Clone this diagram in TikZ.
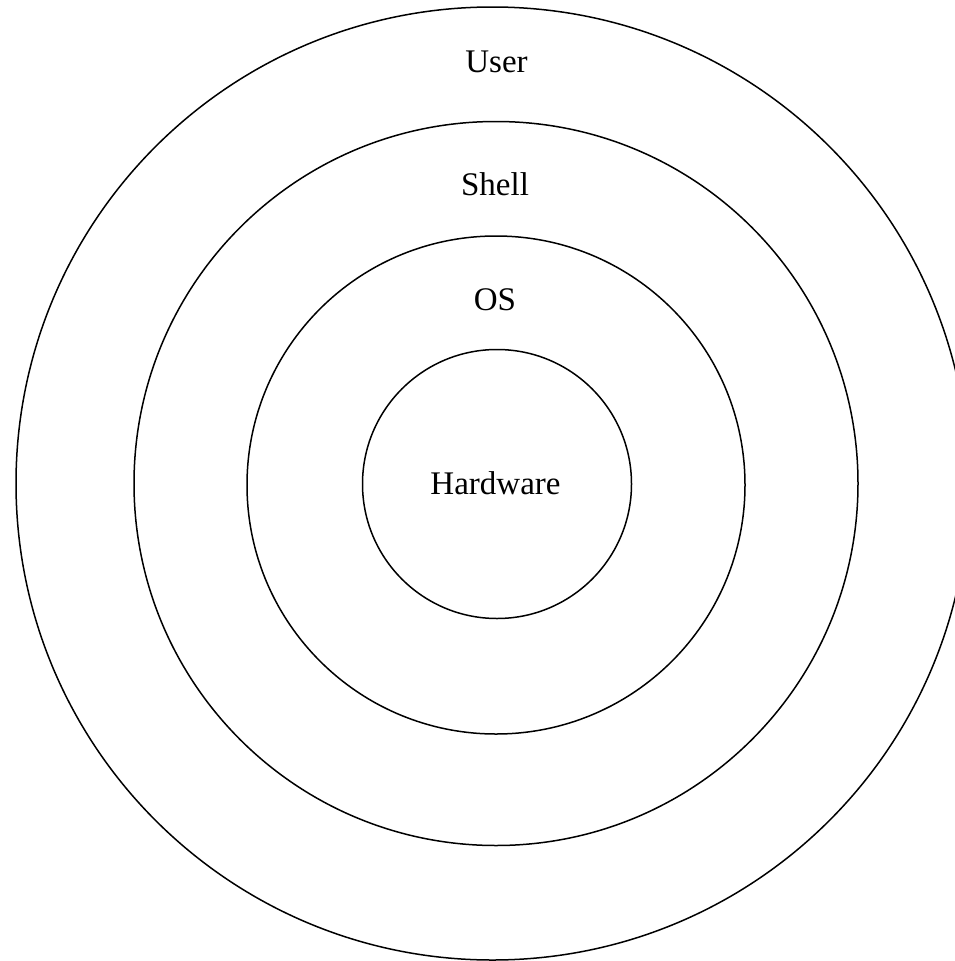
\documentclass[tikz,border=0pt]{standalone}
\usepackage{fontspec}
\setmainfont{Liberation Serif}
\begin{document}
\begin{tikzpicture}[x=1pt,y=-1pt,
  ring/.style={circle, draw=black, line width=1.5pt, inner sep=0pt},
  layer/.style={anchor=base, inner sep=0pt, font=\fontsize{33}{36}\selectfont}]
  \useasboundingbox (0,0) rectangle (955,961);
  \clip (0,0) rectangle (955,961);
  % concentric layers, outermost first
  \node[ring, minimum size=953pt] (userring) at (492.5,483.5) {};
  \node[ring, minimum size=724pt] (shellring) at (496,483.5) {};
  \node[ring, minimum size=498pt] (osring) at (496,485) {};
  \node[ring, minimum size=269pt] (hwring) at (497,484) {};
  % layer names
  \node[layer] (user) at (496.5,72.5) {User};
  \node[layer] (shell) at (495,195) {Shell};
  \node[layer] (os) at (495,310) {OS};
  \node[layer] (hw) at (495.5,494) {Hardware};
\end{tikzpicture}
\end{document}
